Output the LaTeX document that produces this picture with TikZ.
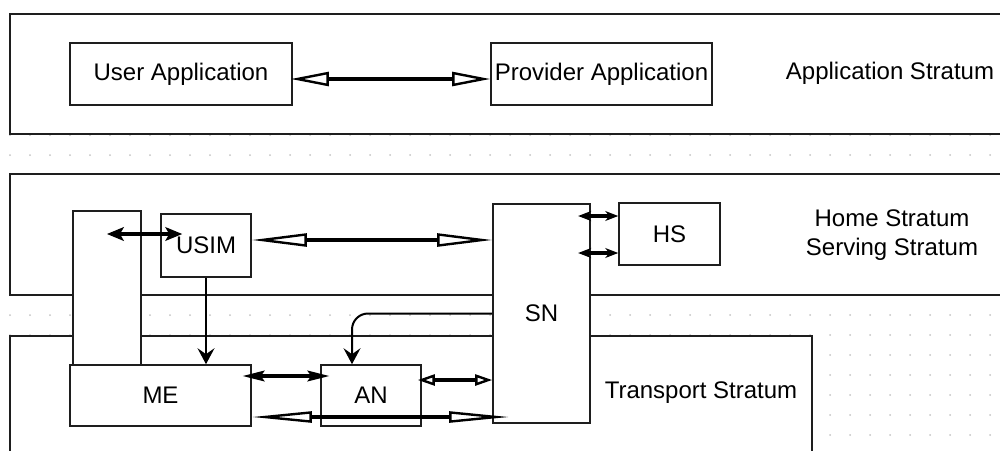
\documentclass[tikz,border=0pt]{standalone}
\usepackage{fontspec}
\setmainfont{Liberation Sans}
\usepackage{xcolor}
\definecolor{gridgray}{RGB}{195,195,195}
\definecolor{linegray}{RGB}{30,30,30}
\usetikzlibrary{arrows.meta,positioning}
\tikzset{
  stratum/.style={draw=linegray, fill=white, line width=0.8pt},
  block/.style={draw=linegray, fill=white, line width=0.8pt, inner sep=0pt, font=\fontsize{12pt}{14.5pt}\selectfont},
  tag/.style={font=\fontsize{12pt}{14.5pt}\selectfont, align=center},
  openlink/.style 2 args={line width=2.2pt, miter limit=40, {Triangle[open,length=#1,width=#2,line width=1.2pt]}-{Triangle[open,length=#1,width=#2,line width=1.2pt]}},
  solidlink/.style 2 args={line width=2.2pt, {Stealth[length=#1,width=#2,inset=2pt,line width=0.6pt]}-{Stealth[length=#1,width=#2,inset=2pt,line width=0.6pt]}},
  feed/.style={line width=1pt, -{Stealth[length=8pt,width=8.5pt,inset=3pt]}}
}
\begin{document}
\begin{tikzpicture}[x=0.5pt, y=-0.5pt]
  \useasboundingbox (0,0) rectangle (1000,450);
  \clip (0,0) rectangle (1000,450);
  \foreach \gx in {10,30,...,990}
    \foreach \gy in {15,35,...,435}
      \fill[gridgray] (\gx,\gy) circle (0.5pt);
  \draw[stratum] (10,14) rectangle (1010,134);
  \draw[stratum] (10,174) rectangle (1010,295);
  \draw[stratum] (10,336) rectangle (812,460);

  \node[block, minimum width=111pt, minimum height=31pt] (userapp) at (181,74) {User Application};
  \node[block, minimum width=110.5pt, minimum height=31pt] (provapp) at (601.5,74) {Provider Application};
  \node[tag] (appstr) at (890,73) {Application Stratum};
  \node[block, minimum width=34pt, minimum height=77pt] (mecol) at (107,288) {};
  \node[block, minimum width=45pt, minimum height=31.5pt] (usim) at (206,245.5) {USIM};
  \node[block, minimum width=48.5pt, minimum height=109.5pt] (sn) at (541.5,313.5) {SN};
  \node[block, minimum width=50.5pt, minimum height=31pt] (hs) at (669.5,234) {HS};
  \node[block, minimum width=90.5pt, minimum height=30.5pt] (me) at (160.5,395.5) {ME};
  \node[block, minimum width=50pt, minimum height=30.5pt] (an) at (371,395.5) {AN};
  \node[tag] (homestr) at (892,235) {Home Stratum\\Serving Stratum};
  \node[tag] (transstr) at (701,393) {Transport Stratum};

  \coordinate (mebot) at ([yshift=-10.75pt]me.east);
  \coordinate (snbot) at (mebot -| sn.west);

  \draw[openlink={19pt}{7pt}] ([xshift=-1pt,yshift=-2.5pt]userapp.east) -- ([yshift=-2.5pt]provapp.west);
  \draw[openlink={27.5pt}{6.5pt}] ([yshift=2.75pt]usim.east) -- ([yshift=2.75pt]usim.east -| sn.west);
  \draw[solidlink={8.5pt}{7pt}] ([yshift=5.75pt]usim.west -| mecol.center) -- ([xshift=11pt,yshift=5.75pt]usim.west);
  \draw[solidlink={6.5pt}{5pt}] ([xshift=-20pt,yshift=9pt]hs.west) -- ([yshift=9pt]hs.west);
  \draw[solidlink={6.5pt}{5pt}] ([xshift=-20pt,yshift=-9.5pt]hs.west) -- ([yshift=-9.5pt]hs.west);
  \draw[feed] (usim.south) -- (usim.south |- me.north);
  \draw[feed, rounded corners=8pt] (sn.west) -| ([xshift=-9.5pt]an.north);
  \draw[solidlink={11pt}{5.5pt}] ([xshift=-4.5pt,yshift=9.75pt]me.east) -- ([xshift=4.5pt,yshift=9.75pt]an.west);
  \draw[openlink={8.5pt}{5.5pt}] ([xshift=-2pt,yshift=7.75pt]an.east) -- ([yshift=7.75pt]an.east -| sn.west);
  \draw[openlink={30pt}{5.5pt}] (mebot) -- ([xshift=8.5pt]snbot);
\end{tikzpicture}
\end{document}
